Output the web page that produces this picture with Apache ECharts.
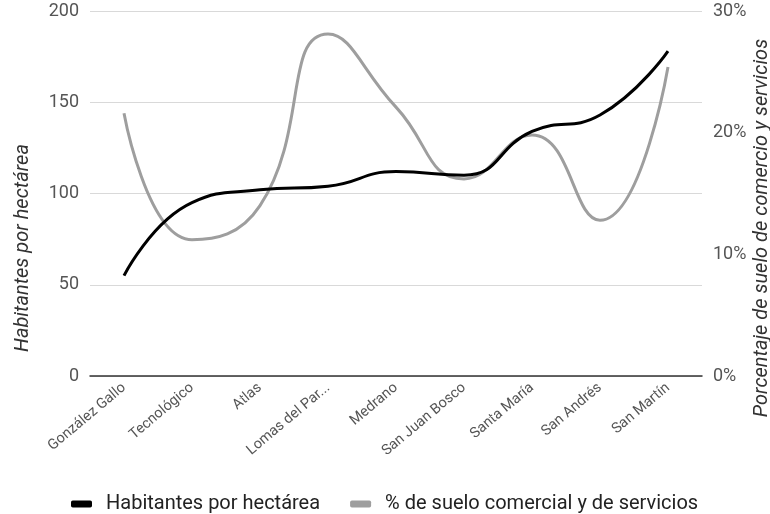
<!DOCTYPE html>
<html>
<head>
<meta charset="utf-8">
<script src="https://cdn.jsdelivr.net/npm/echarts@6/dist/echarts.min.js"></script>
<style>
  html, body { margin: 0; padding: 0; background: #fff; }
  #chart { width: 770px; height: 514px; }
</style>
</head>
<body>
<div id="chart"></div>
<script>
const colonias = ['González Gallo', 'Tecnológico', 'Atlas', 'Lomas del Par...', 'Medrano',
                  'San Juan Bosco', 'Santa María', 'San Andrés', 'San Martín'];
const habitantes = [55, 95, 102, 104, 112, 110, 134, 143, 178];
const sueloComercial = [21.6, 11.2, 14, 28.1, 22.1, 16.2, 19.8, 12.8, 25.4];

const leftTicks = { min: 0, max: 200, interval: 50 };
const rightTicks = { min: 0, max: 30, interval: 10 };

const chart = echarts.init(document.getElementById('chart'));
const font = 'Roboto, "Noto Sans", sans-serif';

const option = {
  animation: false,
  textStyle: { fontFamily: font },
  grid: { left: 90, right: 68, top: 11, bottom: 138 },
  legend: {
    top: 489,
    left: 66,
    icon: 'roundRect',
    itemWidth: 21,
    itemHeight: 7,
    itemGap: 30,
    textStyle: { fontSize: 20, color: '#222', fontFamily: font, padding: [0, 0, 0, 9] },
    data: ['Habitantes por hectárea', '% de suelo comercial y de servicios']
  },
  xAxis: {
    type: 'category',
    data: colonias,
    boundaryGap: true,
    axisTick: { show: false },
    axisLine: { lineStyle: { color: '#333', width: 1.5 } },
    axisLabel: { rotate: 40, fontSize: 14.5, color: '#555', margin: 10, interval: 0 }
  },
  yAxis: [{
    type: 'value',
    ...leftTicks,
    axisLine: { show: false },
    axisTick: { show: false },
    axisLabel: { fontSize: 18, color: '#555', margin: 11 },
    splitLine: { lineStyle: { color: '#d9d9d9', width: 1 } }
  }, {
    type: 'value',
    ...rightTicks,
    position: 'right',
    axisLine: { show: false },
    axisTick: { show: false },
    splitLine: { show: false },
    axisLabel: { fontSize: 18, color: '#555', margin: 11, formatter: '{value}%' }
  }],
  graphic: [{
    type: 'text',
    x: 13,
    y: 248,
    rotation: Math.PI / 2,
    style: {
      text: 'Habitantes por hectárea', fontSize: 20, fontStyle: 'italic', fill: '#333',
      fontFamily: font, align: 'center', verticalAlign: 'top'
    }
  }, {
    type: 'text',
    x: 752,
    y: 228,
    rotation: Math.PI / 2,
    style: {
      text: 'Porcentaje de suelo de comercio y servicios', fontSize: 20, fontStyle: 'italic', fill: '#333',
      fontFamily: font, align: 'center', verticalAlign: 'top'
    }
  }],
  series: [{
    name: 'Habitantes por hectárea',
    type: 'line',
    data: habitantes,
    smooth: 0.5,
    symbol: 'none',
    lineStyle: { color: '#000', width: 3 },
    itemStyle: { color: '#000' },
    z: 3
  }, {
    name: '% de suelo comercial y de servicios',
    type: 'line',
    yAxisIndex: 1,
    data: sueloComercial,
    smooth: 0.5,
    symbol: 'none',
    lineStyle: { color: '#9e9e9e', width: 3 },
    itemStyle: { color: '#9e9e9e' },
    z: 2
  }]
};

chart.setOption(option);
</script>
</body>
</html>
